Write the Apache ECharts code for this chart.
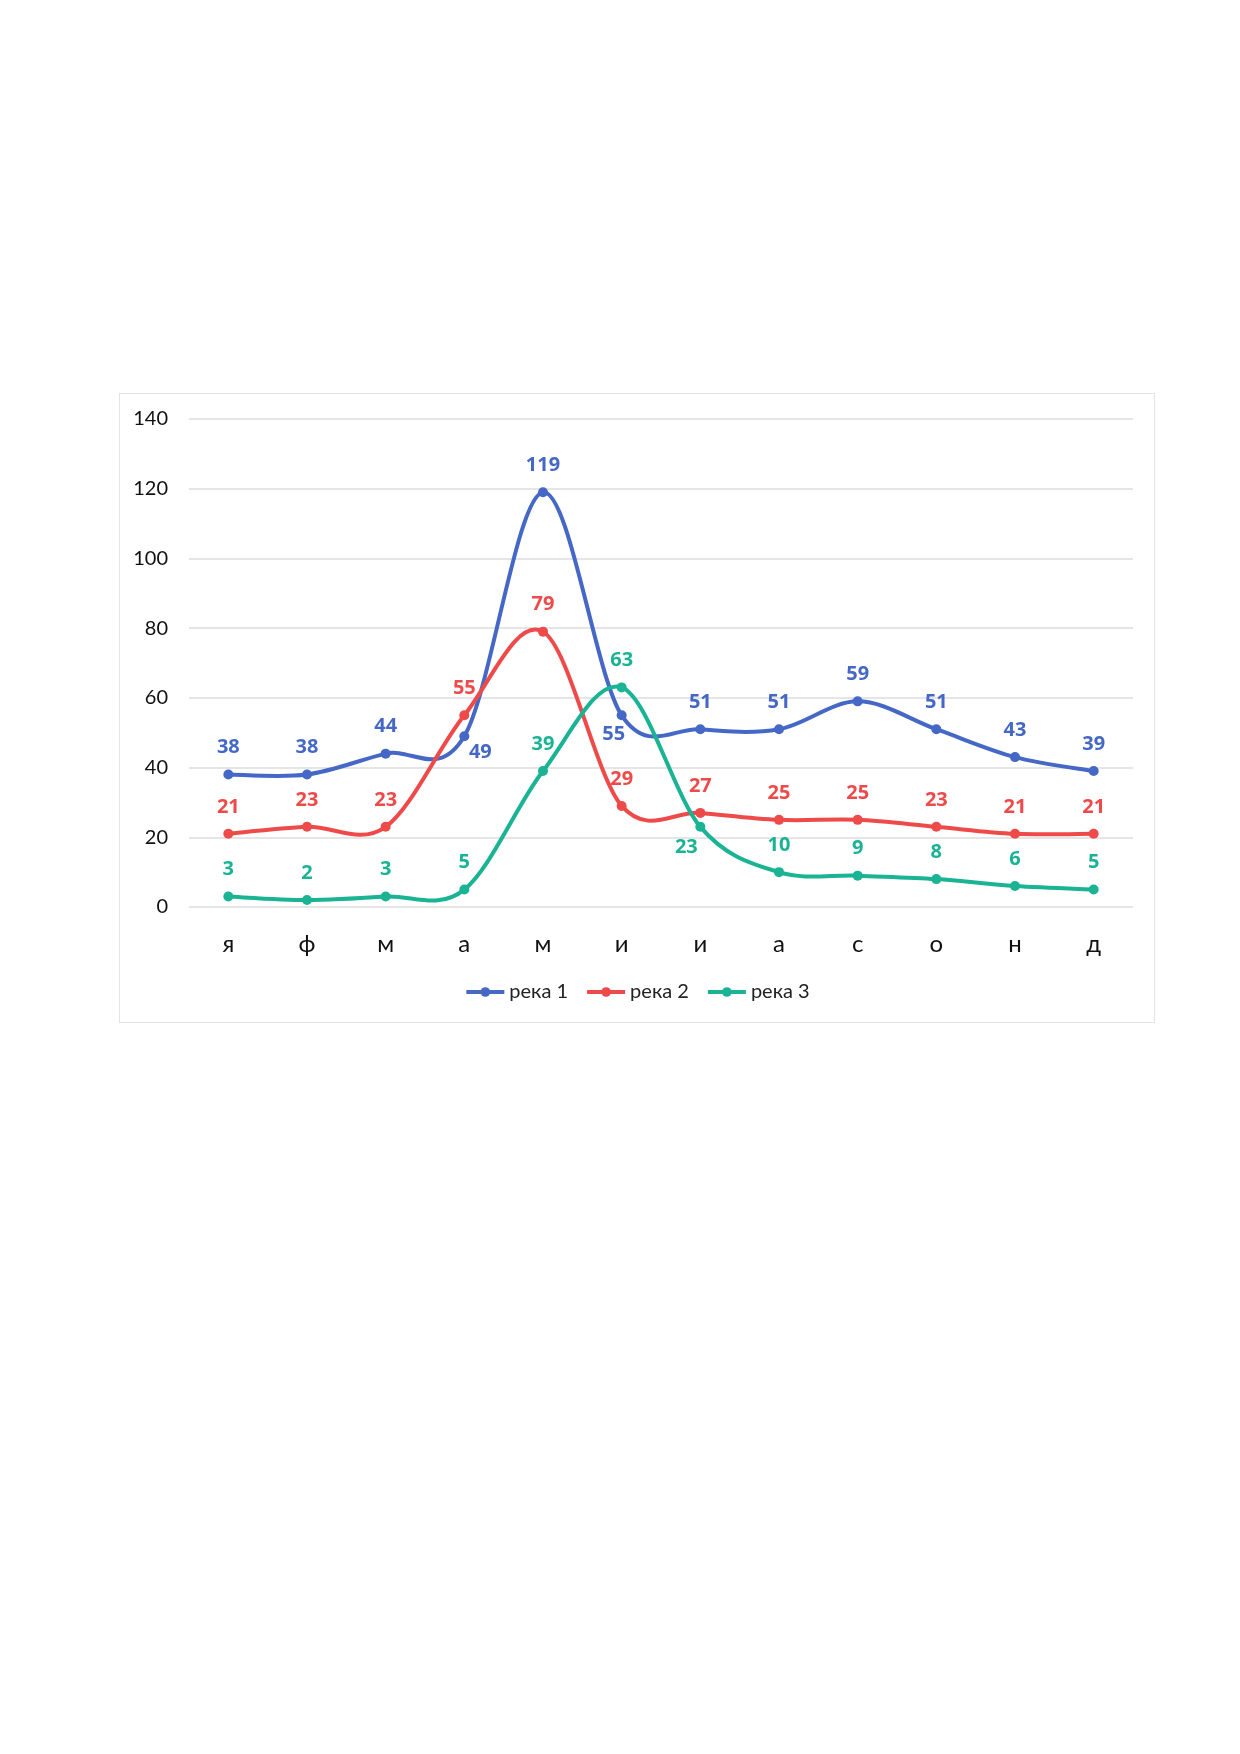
<!DOCTYPE html>
<html>
<head>
<meta charset="utf-8">
<script src="https://cdn.jsdelivr.net/npm/echarts@6/dist/echarts.min.js"></script>
<style>
html,body{margin:0;padding:0;background:#fff;width:1240px;height:1754px;overflow:hidden;}
#box{position:absolute;left:119px;top:393px;width:1036px;height:630px;border:1px solid #e4e4e4;box-sizing:border-box;}
#chart{width:100%;height:100%;}
</style>
</head>
<body>
<div id="box"><div id="chart"></div></div>
<script>
var categories = ['я','ф','м','а','м','и','и','а','с','о','н','д'];
var seriesNames = ['река 1','река 2','река 3'];
var river1 = [38, 38, 44, 49, 119, 55, 51, 51, 59, 51, 43, 39];
var river2 = [21, 23, 23, 55, 79, 29, 27, 25, 25, 23, 21, 21];
var river3 = [3, 2, 3, 5, 39, 63, 23, 10, 9, 8, 6, 5];
var yTicks = {min: 0, max: 140, interval: 20};

var colors = ['#4568c6', '#ee4a4a', '#1ab394'];
var font = 'Lato, "Noto Sans", sans-serif';
var labelFont = '"Open Sans", "Noto Sans", sans-serif';
var LINE_W = 4;

// label offsets (special placements)
var specialOffsets = {
  0: {3: [16, 16], 5: [-8, 19]},
  2: {6: [-14, 20]}
};

function buildData(values, si) {
  return values.map(function (v, i) {
    var off = (specialOffsets[si] && specialOffsets[si][i]) || [0, -27];
    return {value: v, label: {offset: off}};
  });
}

// markers + labels
function pointSeries(values, si) {
  return {
    name: seriesNames[si],
    type: 'line',
    symbol: 'circle',
    symbolSize: 10,
    data: buildData(values, si),
    lineStyle: {opacity: 0},
    itemStyle: {color: colors[si]},
    label: {
      show: true,
      position: 'inside',
      color: colors[si],
      fontFamily: labelFont,
      fontWeight: 'bold',
      fontSize: 20
    },
    z: 5
  };
}

// smooth curve (Catmull-Rom through the data points, via axis coords)
function curveSeries(values, si) {
  return {
    name: seriesNames[si],
    type: 'custom',
    silent: true,
    data: values.map(function (v, i) { return [i, v]; }),
    encode: {x: 0, y: 1},
    z: 3,
    renderItem: function (params, api) {
      var i = params.dataIndex;
      var n = values.length;
      if (i >= n - 1) return null;
      var p = function (k) {
        k = Math.max(0, Math.min(n - 1, k));
        return api.coord([k, values[k]]);
      };
      var p0 = p(i - 1), p1 = p(i), p2 = p(i + 1), p3 = p(i + 2);
      var c1x = p1[0] + (p2[0] - p0[0]) / 6, c1y = p1[1] + (p2[1] - p0[1]) / 6;
      var c2x = p2[0] - (p3[0] - p1[0]) / 6, c2y = p2[1] - (p3[1] - p1[1]) / 6;
      return {
        type: 'bezierCurve',
        shape: {x1: p1[0], y1: p1[1], x2: p2[0], y2: p2[1], cpx1: c1x, cpy1: c1y, cpx2: c2x, cpy2: c2y},
        style: {stroke: colors[si], lineWidth: LINE_W, fill: 'none', lineCap: 'round'}
      };
    }
  };
}

var chart = echarts.init(document.getElementById('chart'), null, {renderer: 'canvas'});
chart.setOption({
  animation: false,
  backgroundColor: '#fff',
  color: colors,
  grid: {left: 69, right: 21, top: 25, bottom: 115, containLabel: false},
  legend: {
    data: seriesNames.map(function (nm, si) {
      return {name: nm, itemStyle: {color: colors[si]}, lineStyle: {color: colors[si], width: LINE_W, opacity: 1}};
    }),
    top: 583,
    left: 'center',
    itemWidth: 38,
    itemHeight: 12,
    itemGap: 17,
    textStyle: {fontFamily: font, fontSize: 20, color: '#222'}
  },
  xAxis: {
    type: 'category',
    data: categories,
    boundaryGap: true,
    axisLine: {show: false},
    axisTick: {show: false},
    axisLabel: {fontFamily: font, fontSize: 24, color: '#111', margin: 25}
  },
  yAxis: {
    type: 'value',
    min: yTicks.min,
    max: yTicks.max,
    interval: yTicks.interval,
    axisLine: {show: false},
    axisTick: {show: false},
    splitLine: {lineStyle: {color: '#dcdcdc', width: 1.5}},
    axisLabel: {fontFamily: font, fontSize: 20, color: '#111', margin: 21}
  },
  series: [
    pointSeries(river1, 0),
    pointSeries(river2, 1),
    pointSeries(river3, 2),
    curveSeries(river1, 0),
    curveSeries(river2, 1),
    curveSeries(river3, 2)
  ]
});
</script>
</body>
</html>
